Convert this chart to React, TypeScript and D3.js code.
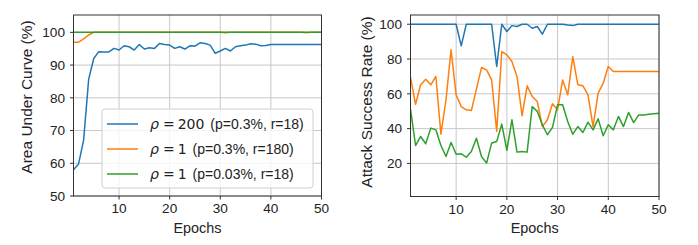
import React from "react";
import * as d3 from "d3";

const W = 698;
const H = 245;
const colors = ["#1f77b4", "#ff7f0e", "#2ca02c"];

const epochs = d3.range(1, 51);

// left panel: AUC
const aucRho200 = [58, 59.8, 67.1, 85.7, 92, 94.1, 94, 94, 95.1, 94.6,
  95.9, 95.6, 94.6, 96.3, 94.9, 95.3, 95.1, 96.6, 96.3, 96.1,
  95.1, 95.6, 94.9, 95.9, 95.8, 96.8, 96.6, 96.1, 93.6, 94.3,
  95.1, 94.3, 95.6, 95.9, 96.1, 96.5, 96.4, 95.9, 96, 96.3,
  96.3, 96.3, 96.3, 96.3, 96.3, 96.3, 96.3, 96.3, 96.3, 96.3];
const aucRho1a = [97, 97, 98, 99.2, 100, 100, 100, 100, 100, 100,
  100, 100, 100, 100, 100, 100, 100, 100, 100, 100,
  100, 100, 100, 100, 100, 100, 100, 100, 100, 100,
  99.9, 100, 100, 100, 100, 100, 100, 100, 100, 100,
  100, 100, 100, 100, 100, 100, 99.9, 100, 100, 100];
const aucRho1b = epochs.map(() => 100);

// right panel: attack success rate
const asrRho200 = [100, 100, 100, 100, 100, 100, 100, 100, 100, 100,
  87.6, 100, 100, 100, 100, 100, 100, 75.7, 100, 95.8,
  99.2, 98.7, 100, 100, 97.7, 98.7, 94.3, 100, 100, 100,
  100, 99.5, 99.2, 100, 100, 100, 100, 100, 100, 100,
  100, 100, 100, 100, 100, 100, 100, 100, 100, 100];
const asrRho1a = [69.4, 54, 65.2, 68.4, 65.2, 70, 36.8, 56.6, 85.3, 59.4,
  52.7, 50.8, 50.4, 62.7, 75.1, 73.8, 68, 38.4, 84.3, 82.4,
  78.6, 70, 47.4, 64.6, 58.5, 55.6, 41.2, 45.1, 54.3, 50.8,
  68, 59.4, 81.4, 65.2, 64.6, 59.4, 41.2, 60.4, 66.1, 75.7,
  72.8, 72.8, 72.8, 72.8, 72.8, 72.8, 72.8, 72.8, 72.8, 72.8];
const asrRho1b = [51.2, 30.3, 35.5, 31.3, 40.3, 39.3, 30.3, 24, 32, 25.3,
  25.5, 23.6, 26.9, 34.5, 24, 20.2, 31.7, 32.6, 42.6, 27.5,
  45.1, 26.5, 26.9, 26.5, 52.7, 49.9, 42.2, 36.5, 40.7, 53.7,
  53.7, 44.1, 36.8, 41.2, 37.8, 43.7, 39.3, 45.6, 35.9, 42.2,
  39.3, 47, 41.2, 49.3, 43.5, 47.9, 47.9, 48.3, 48.6, 48.9];

const legendRho = ["200", "1", "1"];
const legendParams = ["(p=0.3%, r=18)", "(p=0.3%, r=180)", "(p=0.03%, r=18)"];

const font = "'Liberation Sans', Arial, sans-serif";
const mathFont = "'DejaVu Sans', sans-serif";
const fs = 13.6;

type PanelProps = {
  left: number;
  right: number;
  top: number;
  bottom: number;
  yDomain: [number, number];
  yTicks: number[];
  series: number[][];
  ylabel: string;
  ylabelX: number;
  ylabelY: number;
  legend?: boolean;
};

function Panel(p: PanelProps) {
  const x = d3.scaleLinear().domain([1, 50]).range([p.left, p.right]);
  const y = d3.scaleLinear().domain(p.yDomain).range([p.bottom, p.top]);
  const line = d3.line<number>().x((_, i) => x(epochs[i])).y(d => y(d));
  const xTicks = [10, 20, 30, 40, 50];
  return (
    <g fontFamily={font} fontSize={fs} fill="#222">
      {xTicks.map(t => (
        <line key={"gx" + t} x1={x(t)} x2={x(t)} y1={p.top} y2={p.bottom} stroke="#c8c8c8" strokeWidth={1} />
      ))}
      {p.yTicks.map(t => (
        <line key={"gy" + t} x1={p.left} x2={p.right} y1={y(t)} y2={y(t)} stroke="#c8c8c8" strokeWidth={1} />
      ))}
      <defs>
        <clipPath id={"clip" + p.left}>
          <rect x={p.left} y={p.top} width={p.right - p.left} height={p.bottom - p.top} />
        </clipPath>
      </defs>
      <g clipPath={`url(#clip${p.left})`}>
        {p.series.map((s, i) => (
          <path key={i} d={line(s) || ""} fill="none" stroke={colors[i]} strokeWidth={1.5} strokeLinejoin="round" />
        ))}
      </g>
      <rect x={p.left} y={p.top} width={p.right - p.left} height={p.bottom - p.top} fill="none" stroke="#333" strokeWidth={1} />
      {xTicks.map(t => (
        <g key={"tx" + t}>
          <line x1={x(t)} x2={x(t)} y1={p.bottom} y2={p.bottom + 3.5} stroke="#333" />
          <text x={x(t)} y={p.bottom + 17.3} textAnchor="middle">{t}</text>
        </g>
      ))}
      {p.yTicks.map(t => (
        <g key={"ty" + t}>
          <line x1={p.left - 3.5} x2={p.left} y1={y(t)} y2={y(t)} stroke="#333" />
          <text x={p.left - 8.5} y={y(t) + 4.8} textAnchor="end">{t}</text>
        </g>
      ))}
      <text x={(p.left + p.right) / 2} y={p.bottom + 36.5} textAnchor="middle" fontSize={14.4}>Epochs</text>
      <text transform={`translate(${p.ylabelX},${p.ylabelY}) rotate(-90)`} textAnchor="middle" dy="0.35em" fontSize={15.5}>{p.ylabel}</text>
      {p.legend && (
        <g>
          <rect x={102} y={109} width={211} height={79} rx={3} fill="#fff" fillOpacity={0.8} stroke="#d0d0d0" />
          {legendRho.map((r, i) => {
            const cy = 124 + i * 25;
            return (
              <g key={i}>
                <line x1={107} x2={138} y1={cy} y2={cy} stroke={colors[i]} strokeWidth={1.5} />
                <text x={150} y={cy + 5} fontSize={14}>
                  <tspan fontFamily={mathFont} fontStyle="italic">ρ</tspan>
                  <tspan fontFamily={mathFont} dx={4}>=</tspan>
                  <tspan fontFamily={mathFont} dx={3}>{r}</tspan>
                  <tspan dx={6}>{legendParams[i]}</tspan>
                </text>
              </g>
            );
          })}
        </g>
      )}
    </g>
  );
}

export default function App() {
  return (
    <svg width={W} height={H} style={{ position: "absolute", left: 0, top: 0, background: "#fff" }}>
      <Panel
        left={73.5}
        right={321.5}
        top={15}
        bottom={196}
        yDomain={[50, 105.3]}
        yTicks={[50, 60, 70, 80, 90, 100]}
        series={[aucRho200, aucRho1a, aucRho1b]}
        ylabel="Area Under Curve (%)"
        ylabelX={27}
        ylabelY={97}
        legend
      />
      <Panel
        left={410.5}
        right={659}
        top={15}
        bottom={196.5}
        yDomain={[1, 105.3]}
        yTicks={[20, 40, 60, 80, 100]}
        series={[asrRho200, asrRho1a, asrRho1b]}
        ylabel="Attack Success Rate (%)"
        ylabelX={367}
        ylabelY={102}
      />
    </svg>
  );
}
